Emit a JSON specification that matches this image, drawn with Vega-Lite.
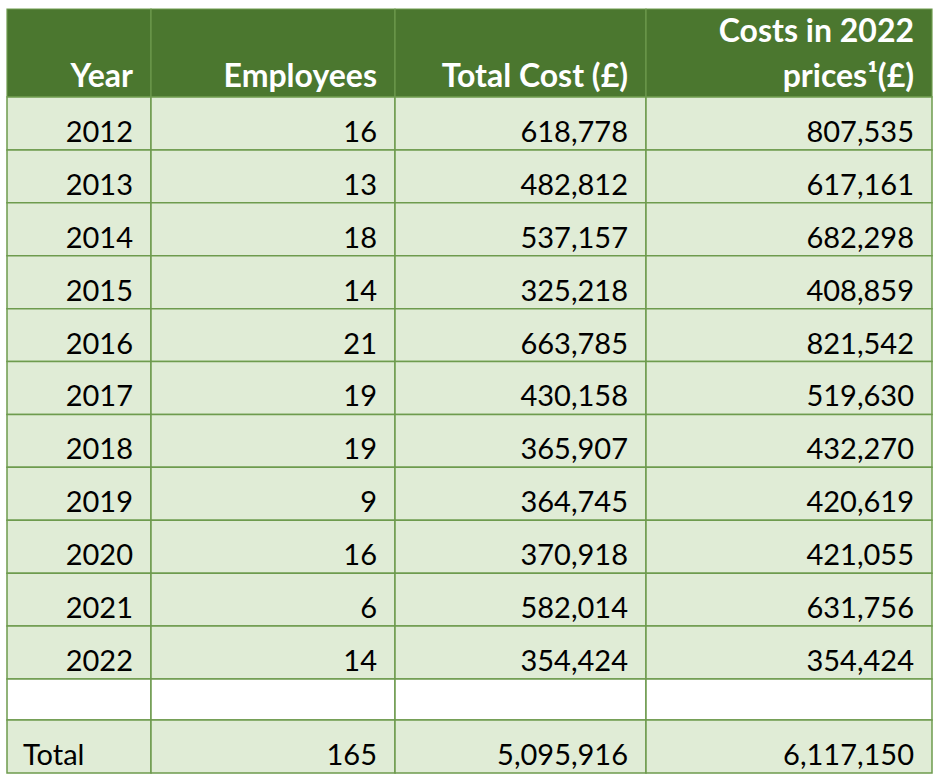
{
  "$schema": "https://vega.github.io/schema/vega-lite/v6.json",
  "width": 942,
  "height": 783,
  "padding": 0,
  "autosize": {"type": "none"},
  "background": "white",
  "config": {"view": {"stroke": null}, "font": "Lato"},
  "datasets": {
    "table": [
      {"Year": "2012", "Employees": 16, "Total Cost": 618778, "Real Cost": 807535},
      {"Year": "2013", "Employees": 13, "Total Cost": 482812, "Real Cost": 617161},
      {"Year": "2014", "Employees": 18, "Total Cost": 537157, "Real Cost": 682298},
      {"Year": "2015", "Employees": 14, "Total Cost": 325218, "Real Cost": 408859},
      {"Year": "2016", "Employees": 21, "Total Cost": 663785, "Real Cost": 821542},
      {"Year": "2017", "Employees": 19, "Total Cost": 430158, "Real Cost": 519630},
      {"Year": "2018", "Employees": 19, "Total Cost": 365907, "Real Cost": 432270},
      {"Year": "2019", "Employees": 9, "Total Cost": 364745, "Real Cost": 420619},
      {"Year": "2020", "Employees": 16, "Total Cost": 370918, "Real Cost": 421055},
      {"Year": "2021", "Employees": 6, "Total Cost": 582014, "Real Cost": 631756},
      {"Year": "2022", "Employees": 14, "Total Cost": 354424, "Real Cost": 354424},
      {"Year": "", "Employees": null, "Total Cost": null, "Real Cost": null},
      {"Year": "Total", "Employees": 165, "Total Cost": 5095916, "Real Cost": 6117150}
    ],
    "headers": [
      {"c": 0, "label": "Year", "above": null},
      {"c": 1, "label": "Employees", "above": null},
      {"c": 2, "label": "Total Cost (£)", "above": null},
      {"c": 3, "label": "prices¹(£)", "above": "Costs in 2022"}
    ]
  },
  "layer": [
    {
      "data": {"name": "headers"},
      "transform": [{"calculate": "datum.c + 1", "as": "c2"}],
      "mark": {"type": "rect", "fill": "#4B772F", "stroke": "#6E9B4E", "strokeWidth": 1.2},
      "encoding": {
        "x": {"field": "c", "type": "quantitative", "scale": {"domain": [0, 1, 2, 3, 4], "range": [7, 151, 395, 646, 932]}, "axis": null},
        "x2": {"field": "c2"},
        "y": {"datum": 0, "type": "quantitative", "scale": {"domain": [0, 1, 12, 13, 14], "range": [9, 97, 679, 720, 773]}, "axis": null},
        "y2": {"datum": 1}
      }
    },
    {
      "data": {"name": "headers"},
      "transform": [{"calculate": "datum.c + 1", "as": "c2"}],
      "mark": {"type": "text", "align": "right", "baseline": "alphabetic", "dx": -18, "dy": -10, "fontSize": 32, "fontWeight": "bold", "color": "white"},
      "encoding": {
        "x": {"field": "c2", "type": "quantitative"},
        "y": {"datum": 1, "type": "quantitative"},
        "text": {"field": "label"}
      }
    },
    {
      "data": {"name": "headers"},
      "transform": [{"filter": "isValid(datum.above)"}, {"calculate": "datum.c + 1", "as": "c2"}],
      "mark": {"type": "text", "align": "right", "baseline": "alphabetic", "dx": -18, "dy": -55, "fontSize": 32, "fontWeight": "bold", "color": "white"},
      "encoding": {
        "x": {"field": "c2", "type": "quantitative"},
        "y": {"datum": 1, "type": "quantitative"},
        "text": {"field": "above"}
      }
    },
    {
      "data": {"name": "table"},
      "transform": [
        {"window": [{"op": "row_number", "as": "r"}]},
        {"calculate": "datum.r + 1", "as": "r2"},
        {"fold": ["Year", "Employees", "Total Cost", "Real Cost"]},
        {"calculate": "indexof(['Year','Employees','Total Cost','Real Cost'], datum.key)", "as": "c"},
        {"calculate": "datum.c + 1", "as": "c2"}
      ],
      "mark": {"type": "rect", "stroke": "#6E9B4E", "strokeWidth": 1.5},
      "encoding": {
        "x": {"field": "c", "type": "quantitative"},
        "x2": {"field": "c2"},
        "y": {"field": "r", "type": "quantitative"},
        "y2": {"field": "r2"},
        "fill": {"condition": {"test": "datum.Year === ''", "value": "#FFFFFF"}, "value": "#E0ECD6"}
      }
    },
    {
      "data": {"name": "table"},
      "transform": [
        {"window": [{"op": "row_number", "as": "r"}]},
        {"calculate": "datum.r + 1", "as": "r2"},
        {"fold": ["Year", "Employees", "Total Cost", "Real Cost"]},
        {"filter": "datum.Year !== 'Total' || datum.key !== 'Year'"},
        {"filter": "isValid(datum.value) && datum.value !== ''"},
        {"calculate": "indexof(['Year','Employees','Total Cost','Real Cost'], datum.key)", "as": "c"},
        {"calculate": "datum.c + 1", "as": "c2"},
        {"calculate": "isNumber(datum.value) ? format(datum.value, ',') : datum.value", "as": "label"}
      ],
      "mark": {"type": "text", "align": "right", "baseline": "alphabetic", "dx": -18, "dy": -8, "fontSize": 29, "color": "#000000"},
      "encoding": {
        "x": {"field": "c2", "type": "quantitative"},
        "y": {"field": "r2", "type": "quantitative"},
        "text": {"field": "label"}
      }
    },
    {
      "data": {"name": "table"},
      "transform": [
        {"window": [{"op": "row_number", "as": "r"}]},
        {"calculate": "datum.r + 1", "as": "r2"},
        {"filter": "datum.Year === 'Total'"}
      ],
      "mark": {"type": "text", "align": "left", "baseline": "alphabetic", "dx": 16, "dy": -8, "fontSize": 29, "color": "#000000"},
      "encoding": {
        "x": {"datum": 0, "type": "quantitative"},
        "y": {"field": "r2", "type": "quantitative"},
        "text": {"field": "Year"}
      }
    }
  ]
}
